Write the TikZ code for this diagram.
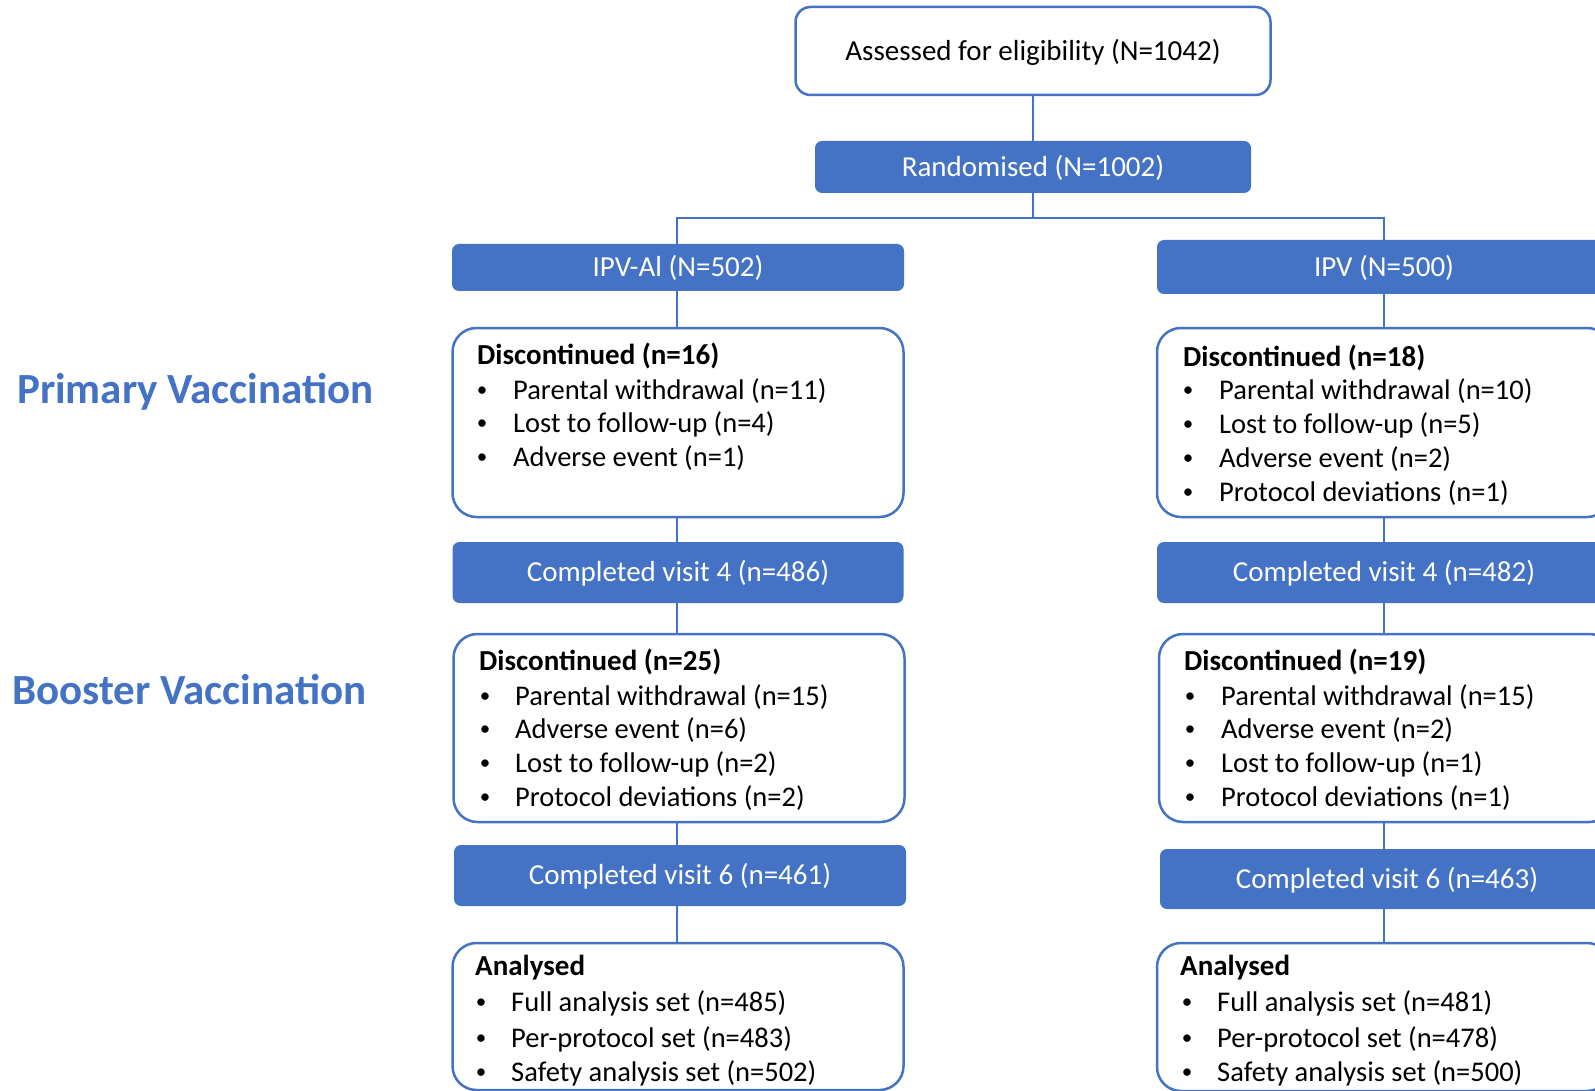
\documentclass[tikz,border=0pt]{standalone}
\usepackage{fontspec}
\setmainfont{Carlito}
\definecolor{ob}{HTML}{4472C4}
\begin{document}
\begin{tikzpicture}[x=1pt,y=-1pt,
  wbox/.style={draw=ob, line width=2.5pt, rounded corners=24pt, fill=white, inner sep=0pt},
  abox/.style={draw=ob, line width=2.5pt, rounded corners=15pt, fill=white, inner sep=0pt,
    font=\fontsize{29}{34}\selectfont, text height=18.8pt, text depth=0pt},
  bbox/.style={fill=ob, rounded corners=7pt, text=white, inner sep=0pt,
    font=\fontsize{29}{34}\selectfont, text height=18.8pt, text depth=0pt},
  conn/.style={draw=ob, line width=1.5pt},
  txt/.style={anchor=west, inner sep=0pt, font=\fontsize{28.5}{34}\selectfont,
    text height=7.5pt, text depth=2.5pt, yshift=-7pt},
  bul/.style={anchor=center, inner sep=0pt, font=\fontsize{21}{24}\selectfont, yshift=-1.5pt},
  ttl/.style={txt, font=\fontsize{29}{34}\selectfont\bfseries},
  side/.style={anchor=west, inner sep=0pt, text=ob, font=\fontsize{43}{50}\selectfont\bfseries,
    text height=7.5pt, text depth=2.5pt, yshift=-11pt}]
\useasboundingbox (0,0) rectangle (1595,1091);
% boxes
\node[abox, minimum width=475pt, minimum height=88pt] (assess) at (1033,51) {Assessed for eligibility (N=1042)};
\node[bbox, minimum width=436pt, minimum height=52pt] (rand) at (1033,167) {Randomised (N=1002)};
\node[bbox, minimum width=452pt, minimum height=47pt] (ipval) at (678,267.5) {IPV-Al (N=502)};
\node[bbox, minimum width=454pt, minimum height=54pt] (ipv) at (1384,267) {IPV (N=500)};
\node[wbox, minimum width=451pt, minimum height=189pt] (d1L) at (678,422.5) {};
\node[wbox, minimum width=454pt, minimum height=189pt] (d1R) at (1384,422.5) {};
\node[bbox, minimum width=451pt, minimum height=61pt] (c4L) at (678,572.5) {Completed visit 4 (n=486)};
\node[bbox, minimum width=454pt, minimum height=61pt] (c4R) at (1384,572.5) {Completed visit 4 (n=482)};
\node[wbox, minimum width=451pt, minimum height=188pt] (d2L) at (679,728) {};
\node[wbox, minimum width=454pt, minimum height=188pt] (d2R) at (1386,728) {};
\node[bbox, minimum width=452pt, minimum height=61pt] (c6L) at (680,875.5) {Completed visit 6 (n=461)};
\node[bbox, minimum width=454pt, minimum height=60pt] (c6R) at (1387,879) {Completed visit 6 (n=463)};
\node[wbox, minimum width=451pt, minimum height=147pt] (aL) at (678,1016.5) {};
\node[wbox, minimum width=454pt, minimum height=148pt] (aR) at (1384,1017) {};
% connectors
\coordinate (split) at (1033,218);
\draw[conn] (assess.south) -- (rand.north);
\draw[conn] (rand.south) -- (split);
\draw[conn] (ipval.north -| 677,0) |- (split) -| (ipv.north);
\draw[conn] (ipval.south -| 677,0) -- (d1L.north -| 677,0);
\draw[conn] (d1L.south -| 677,0) -- (c4L.north -| 677,0);
\draw[conn] (c4L.south -| 677,0) -- (d2L.north -| 677,0);
\draw[conn] (d2L.south -| 677,0) -- (c6L.north -| 677,0);
\draw[conn] (c6L.south -| 677,0) -- (aL.north -| 677,0);
\draw[conn] (ipv.south) -- (d1R.north -| ipv);
\draw[conn] (d1R.south -| ipv) -- (c4R.north -| ipv);
\draw[conn] (c4R.south -| ipv) -- (d2R.north -| ipv);
\draw[conn] (d2R.south -| ipv) -- (c6R.north -| ipv);
\draw[conn] (c6R.south -| ipv) -- (aR.north -| ipv);
% side titles
\node[side] (prim) at (17,390) {Primary Vaccination};
\node[side] (boost) at (12,691) {Booster Vaccination};
% list texts
\node[ttl] (d1Lh) at (477,355) {Discontinued (n=16)};
\foreach \t/\y [count=\i] in {Parental withdrawal (n=11)/390, Lost to follow-up (n=4)/423, Adverse event (n=1)/457}{
  \node[bul] (d1Lb\i) at (482,\y) {•};
  \node[txt] (d1Lt\i) at (513,\y) {\t};}
\node[ttl] (d1Rh) at (1183,357) {Discontinued (n=18)};
\foreach \t/\y [count=\i] in {Parental withdrawal (n=10)/390, Lost to follow-up (n=5)/424, Adverse event (n=2)/458, Protocol deviations (n=1)/492}{
  \node[bul] (d1Rb\i) at (1188,\y) {•};
  \node[txt] (d1Rt\i) at (1219,\y) {\t};}
\node[ttl] (d2Lh) at (479,661) {Discontinued (n=25)};
\foreach \t/\y [count=\i] in {Parental withdrawal (n=15)/696, Adverse event (n=6)/729, Lost to follow-up (n=2)/763, Protocol deviations (n=2)/797}{
  \node[bul] (d2Lb\i) at (485,\y) {•};
  \node[txt] (d2Lt\i) at (515,\y) {\t};}
\node[ttl] (d2Rh) at (1184,661) {Discontinued (n=19)};
\foreach \t/\y [count=\i] in {Parental withdrawal (n=15)/696, Adverse event (n=2)/729, Lost to follow-up (n=1)/763, Protocol deviations (n=1)/797}{
  \node[bul] (d2Rb\i) at (1190,\y) {•};
  \node[txt] (d2Rt\i) at (1221,\y) {\t};}
\node[ttl] (aLh) at (475,966) {Analysed};
\foreach \t/\y [count=\i] in {Full analysis set (n=485)/1002, Per-protocol set (n=483)/1038, Safety analysis set (n=502)/1072}{
  \node[bul] (aLb\i) at (481,\y) {•};
  \node[txt] (aLt\i) at (511,\y) {\t};}
\node[ttl] (aRh) at (1180,966) {Analysed};
\foreach \t/\y [count=\i] in {Full analysis set (n=481)/1002, Per-protocol set (n=478)/1038, Safety analysis set (n=500)/1072}{
  \node[bul] (aRb\i) at (1187,\y) {•};
  \node[txt] (aRt\i) at (1217,\y) {\t};}
\end{tikzpicture}
\end{document}
